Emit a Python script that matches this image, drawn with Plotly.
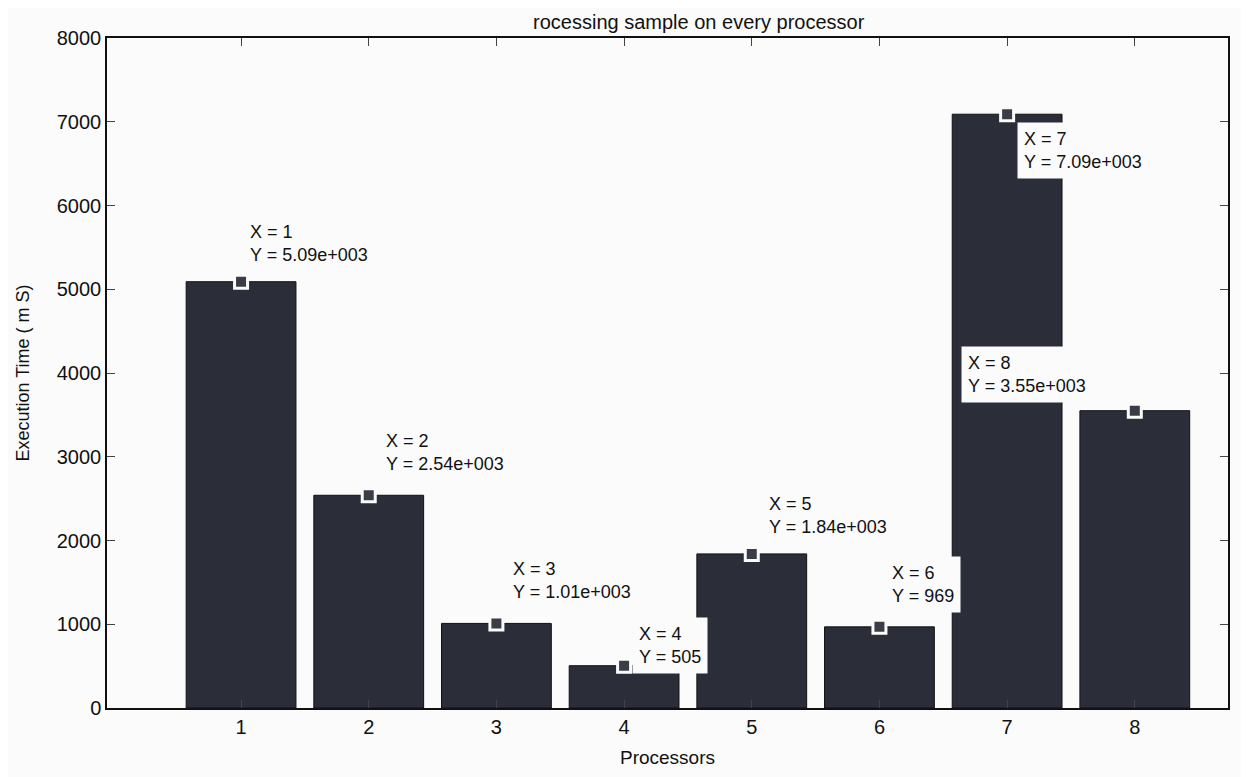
import plotly.graph_objects as go

processors = [1, 2, 3, 4, 5, 6, 7, 8]
exec_time = [5090, 2540, 1010, 505, 1840, 969, 7090, 3550]
tip_labels = ["5.09e+003", "2.54e+003", "1.01e+003", "505",
              "1.84e+003", "969", "7.09e+003", "3.55e+003"]
y_ticks = [0, 1000, 2000, 3000, 4000, 5000, 6000, 7000, 8000]

# datatip placement (anchor, shift) per bar
tip_pos = [
    ("left", "bottom", 2, 10),
    ("left", "bottom", 10, 14),
    ("left", "bottom", 10, 14),
    ("left", "bottom", 8, -8),
    ("left", "bottom", 10, 10),
    ("left", "bottom", 6, 14),
    ("left", "top", 10, -8),
    ("right", "bottom", -42, 8),
]

bar_color = "#2b2e38"

fig = go.Figure()
fig.add_trace(go.Bar(x=processors, y=exec_time, width=0.86,
                     marker=dict(color=bar_color, line=dict(color="#111", width=1)),
                     showlegend=False, hoverinfo="x+y"))

for i, (p, v, lab) in enumerate(zip(processors, exec_time, tip_labels)):
    xa, ya, xs, ys = tip_pos[i]
    fig.add_annotation(x=p, y=v, xref="x", yref="y", showarrow=False,
                       text=f"X = {p}<br>Y = {lab}", align="left",
                       xanchor=xa, yanchor=ya, xshift=xs, yshift=ys,
                       bgcolor="#fbfbfb", borderpad=6,
                       font=dict(family="Liberation Sans, Arial", size=18, color="#111"))

fig.add_trace(go.Scatter(x=processors, y=exec_time, mode="markers",
                         marker=dict(symbol="square", size=13, color="#3a3d45",
                                     line=dict(color="#fbfbfb", width=3)),
                         showlegend=False, hoverinfo="skip", cliponaxis=False))

fig.update_layout(
    width=1249, height=777,
    margin=dict(l=99, r=29, t=30, b=77),
    paper_bgcolor="#fbfbfb", plot_bgcolor="#fbfbfb",
    font=dict(family="Liberation Sans, Arial", size=20, color="#111"),
    title=dict(text="rocessing sample on every processor", x=0.553, y=0.982,
               xanchor="center", yanchor="middle",
               font=dict(size=20, color="#111")),
)
fig.update_xaxes(range=[-0.05, 8.73], tickvals=processors, ticks="inside", ticklen=8,
                 showline=True, mirror="ticks", linecolor="#111", linewidth=1.5,
                 showgrid=False, zeroline=False, automargin=False,
                 title=dict(text="Processors", standoff=14, font=dict(size=19)))
fig.update_yaxes(range=[0, 8000], tickvals=y_ticks, ticks="inside", ticklen=8,
                 showline=True, mirror="ticks", linecolor="#111", linewidth=1.5,
                 showgrid=False, zeroline=False, automargin=False,
                 title=dict(text="Execution Time ( m S)", standoff=22, font=dict(size=18)))

fig.write_html("out.html")
